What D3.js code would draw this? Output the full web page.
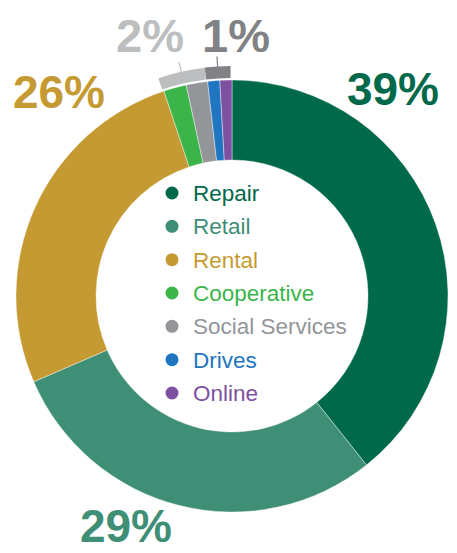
<!DOCTYPE html>
<html>
<head>
<meta charset="utf-8">
<script src="https://cdn.jsdelivr.net/npm/d3@7"></script>
<style>
  html, body { margin: 0; padding: 0; background: #fff; }
  svg { display: block; font-family: 'Liberation Sans', Arial, Helvetica, sans-serif; }
</style>
</head>
<body>
<div id="chart"></div>
<script>
const categories = ['Repair', 'Retail', 'Rental', 'Cooperative', 'Social Services', 'Drives', 'Online'];
const shares = [39.3, 29.2, 26.4, 1.7, 1.6, 0.9, 0.9];
const colors = ['#00694a', '#3f8f76', '#c69a32', '#3bb54a', '#939598', '#1f75bf', '#7d50a0'];

// labels: text and which slices they belong to
const bigLabels = ['39%', '29%', '26%'];
const smallGroups = [['Cooperative', 'Social Services'], ['Drives', 'Online']];
const smallLabels = ['2%', '1%'];
const smallColors = ['#bcbec0', '#808285'];

const width = 457;
const height = 553;
const cx = 232;
const cy = 296;
const outerR = 216;
const innerR = 136;

// hand placed label spots (as in the original layout)
const bigLabelPos = [
  { x: 393, y: 105 },
  { x: 126, y: 542 },
  { x: 59, y: 108 }
];

const data = categories.map((c, i) => ({ name: c, value: shares[i], color: colors[i] }));

const svg = d3
  .select('#chart')
  .append('svg')
  .attr('width', width)
  .attr('height', height);

const g = svg.append('g').attr('transform', `translate(${cx},${cy})`);

const pie = d3
  .pie()
  .sort(null)
  .value((d) => d.value);

const arcs = pie(data);

const arc = d3.arc().innerRadius(innerR).outerRadius(outerR);

g.append('g')
  .selectAll('path')
  .data(arcs)
  .join('path')
  .attr('fill', (d) => d.data.color)
  .attr('stroke', '#fff')
  .attr('stroke-width', 0.4)
  .attr('d', arc);

// brackets round the small slices
const bracketArc = d3
  .arc()
  .innerRadius(outerR + 2)
  .outerRadius(outerR + 14)
  .padAngle(0.009);

smallGroups.forEach((names, i) => {
  const parts = arcs.filter((a) => names.includes(a.data.name));
  const a0 = d3.min(parts, (p) => p.startAngle) - 0.012;
  const a1 = d3.max(parts, (p) => p.endAngle);
  const seg = { startAngle: a0, endAngle: a1 };
  g.append('path')
    .attr('d', bracketArc(seg))
    .attr('fill', smallColors[i]);

  const mid = (a0 + a1) / 2;
  const r0 = outerR + 13;
  const r1 = outerR + 24;
  g.append('line')
    .attr('x1', r0 * Math.sin(mid))
    .attr('y1', -r0 * Math.cos(mid))
    .attr('x2', r1 * Math.sin(mid))
    .attr('y2', -r1 * Math.cos(mid))
    .attr('stroke', smallColors[i])
    .attr('stroke-width', 1.2);
});

// percentage labels
svg
  .append('g')
  .attr('font-size', '46px')
  .attr('font-weight', 'bold')
  .attr('text-anchor', 'middle')
  .selectAll('text')
  .data(bigLabels)
  .join('text')
  .attr('x', (d, i) => bigLabelPos[i].x)
  .attr('y', (d, i) => bigLabelPos[i].y)
  .attr('fill', (d, i) => colors[i])
  .text((d) => d);

const smallPos = [{ x: 150, y: 52 }, { x: 236, y: 52 }];
svg
  .append('g')
  .attr('font-size', '47px')
  .attr('font-weight', 'bold')
  .attr('text-anchor', 'middle')
  .selectAll('text')
  .data(smallLabels)
  .join('text')
  .attr('x', (d, i) => smallPos[i].x)
  .attr('y', (d, i) => smallPos[i].y)
  .attr('fill', (d, i) => smallColors[i])
  .text((d) => d);

// legend in the hole
const rowY = d3
  .scalePoint()
  .domain(categories)
  .range([193, 393]);

const legend = svg
  .append('g')
  .selectAll('g')
  .data(data)
  .join('g')
  .attr('transform', (d) => `translate(172,${rowY(d.name)})`);

legend
  .append('circle')
  .attr('r', 6.5)
  .attr('fill', (d) => d.color);

legend
  .append('text')
  .attr('x', 21)
  .attr('dy', '0.36em')
  .attr('font-size', '22.5px')
  .attr('fill', (d) => d.color)
  .text((d) => d.name);
</script>
</body>
</html>
